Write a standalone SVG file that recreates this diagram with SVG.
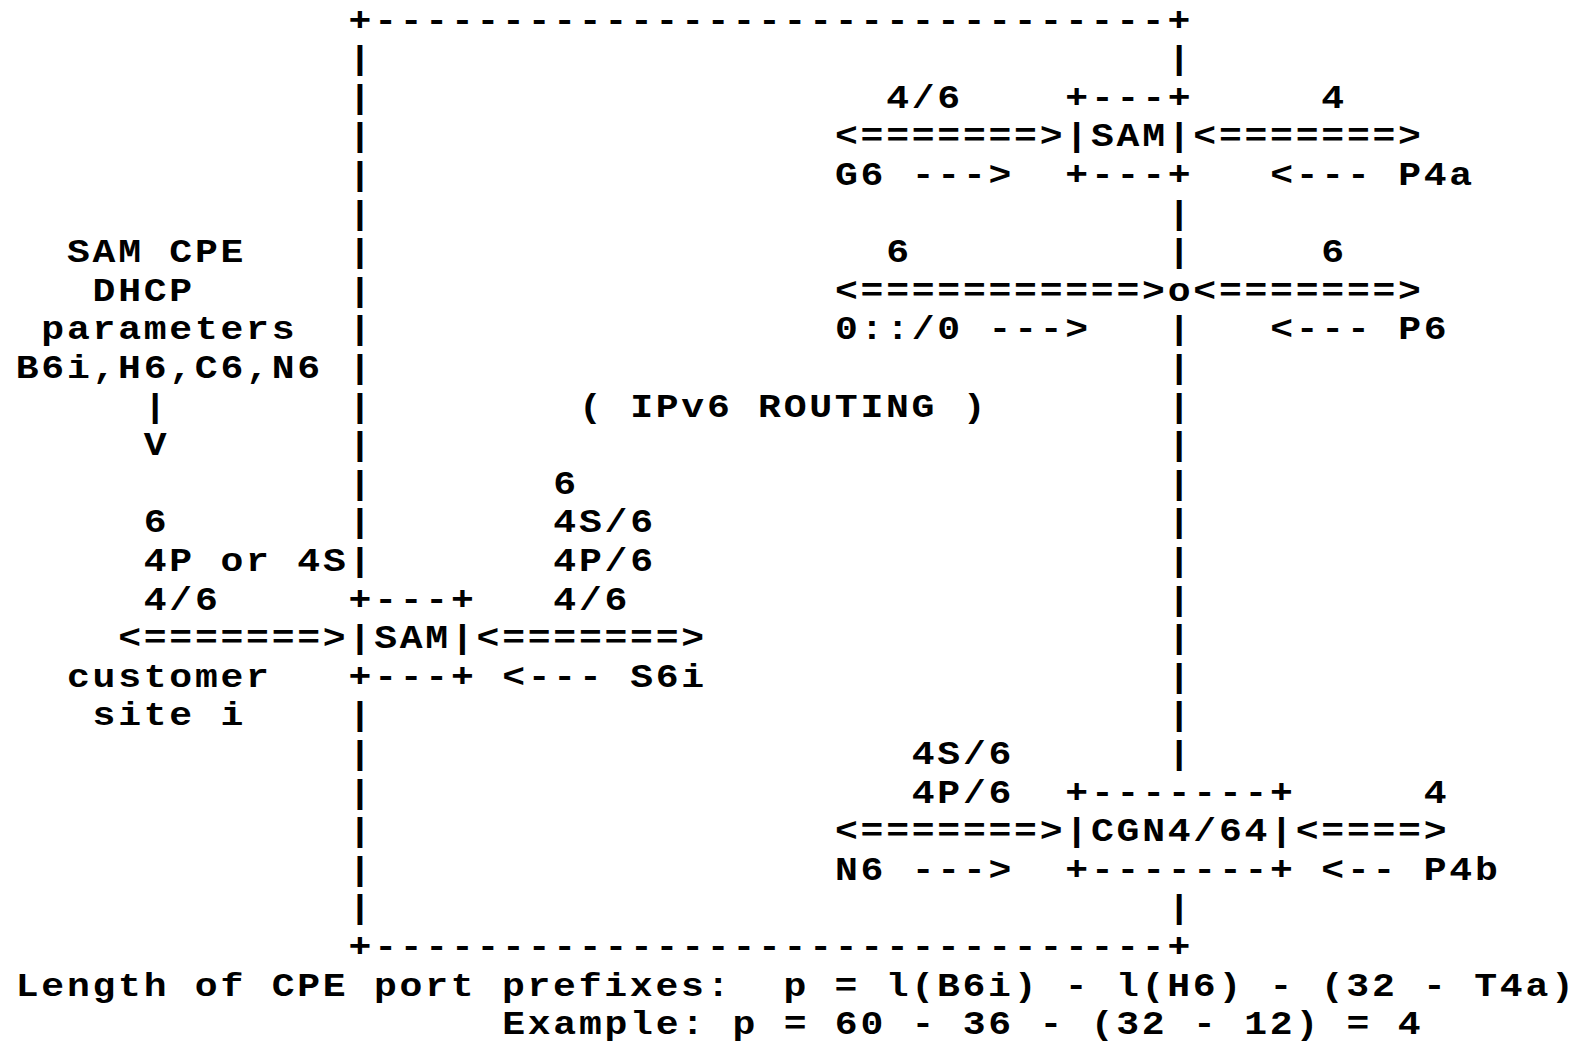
<svg xmlns="http://www.w3.org/2000/svg" width="1576" height="1044" viewBox="0 0 1576 1044" xml:space="preserve">
<style>
text{font-family:"Liberation Mono","DejaVu Sans Mono",monospace;font-size:34px;font-weight:bold;letter-spacing:2.454px;fill:#000;white-space:pre}
</style>
<rect width="1576" height="1044" fill="#fff"/>
<g transform="scale(1.12,1)">
<g id="routing-domain">
<text x="311.23" y="30.7">+-------------------------------+</text>
<text x="311.23" y="957.1">+-------------------------------+</text>
<text x="311.23"><tspan x="311.23" y="69.3">|</tspan><tspan x="311.23" y="107.9">|</tspan><tspan x="311.23" y="146.5">|</tspan><tspan x="311.23" y="185.1">|</tspan><tspan x="311.23" y="223.7">|</tspan><tspan x="311.23" y="262.3">|</tspan><tspan x="311.23" y="300.9">|</tspan><tspan x="311.23" y="339.5">|</tspan><tspan x="311.23" y="378.1">|</tspan><tspan x="311.23" y="416.7">|</tspan><tspan x="311.23" y="455.3">|</tspan><tspan x="311.23" y="493.9">|</tspan><tspan x="311.23" y="532.5">|</tspan><tspan x="311.23" y="571.1">|</tspan><tspan x="311.23" y="725.5">|</tspan><tspan x="311.23" y="764.1">|</tspan><tspan x="311.23" y="802.7">|</tspan><tspan x="311.23" y="841.3">|</tspan><tspan x="311.23" y="879.9">|</tspan><tspan x="311.23" y="918.5">|</tspan></text>
<text x="1042.65"><tspan x="1042.65" y="69.3">|</tspan><tspan x="1042.65" y="223.7">|</tspan><tspan x="1042.65" y="262.3">|</tspan><tspan x="1042.65" y="339.5">|</tspan><tspan x="1042.65" y="378.1">|</tspan><tspan x="1042.65" y="416.7">|</tspan><tspan x="1042.65" y="455.3">|</tspan><tspan x="1042.65" y="493.9">|</tspan><tspan x="1042.65" y="532.5">|</tspan><tspan x="1042.65" y="571.1">|</tspan><tspan x="1042.65" y="609.7">|</tspan><tspan x="1042.65" y="648.3">|</tspan><tspan x="1042.65" y="686.9">|</tspan><tspan x="1042.65" y="725.5">|</tspan><tspan x="1042.65" y="764.1">|</tspan><tspan x="1042.65" y="918.5">|</tspan></text>
<text x="516.94" y="416.7">( IPv6 ROUTING )</text>
</g>
<g id="sam-gateway">
<text x="951.23" y="107.9">+---+</text>
<text x="951.23" y="146.5">|SAM|</text>
<text x="951.23" y="185.1">+---+</text>
</g>
<g id="sam-cpe">
<text x="311.23" y="609.7">+---+</text>
<text x="311.23" y="648.3">|SAM|</text>
<text x="311.23" y="686.9">+---+</text>
</g>
<g id="cgn">
<text x="951.23" y="802.7">+-------+</text>
<text x="951.23" y="841.3">|CGN4/64|</text>
<text x="951.23" y="879.9">+-------+</text>
</g>
<g id="junction">
<text x="1042.65" y="300.9">o</text>
</g>
<g id="cpe-params">
<text x="59.80" y="262.3">SAM CPE</text>
<text x="82.66" y="300.9">DHCP</text>
<text x="36.94" y="339.5">parameters</text>
<text x="14.08" y="378.1">B6i,H6,C6,N6</text>
</g>
<g id="customer-site">
<text x="59.80" y="686.9">customer</text>
<text x="82.66" y="725.5">site i</text>
</g>
<g id="connectors">
<text x="128.37" y="416.7">|</text>
<text x="128.37" y="455.3">V</text>
<text x="745.51" y="146.5">&lt;=======&gt;</text>
<text x="1065.51" y="146.5">&lt;=======&gt;</text>
<text x="814.08" y="185.1">---&gt;</text>
<text x="1134.08" y="185.1">&lt;---</text>
<text x="745.51" y="300.9">&lt;===========&gt;</text>
<text x="1065.51" y="300.9">&lt;=======&gt;</text>
<text x="882.65" y="339.5">---&gt;</text>
<text x="1134.08" y="339.5">&lt;---</text>
<text x="105.51" y="648.3">&lt;=======&gt;</text>
<text x="425.51" y="648.3">&lt;=======&gt;</text>
<text x="448.37" y="686.9">&lt;---</text>
<text x="745.51" y="841.3">&lt;=======&gt;</text>
<text x="1156.94" y="841.3">&lt;====&gt;</text>
<text x="814.08" y="879.9">---&gt;</text>
<text x="1179.80" y="879.9">&lt;--</text>
</g>
<g id="labels">
<text x="791.23" y="107.9">4/6</text>
<text x="1179.80" y="107.9">4</text>
<text x="745.51" y="185.1">G6</text>
<text x="1248.37" y="185.1">P4a</text>
<text x="791.23" y="262.3">6</text>
<text x="1179.80" y="262.3">6</text>
<text x="745.51" y="339.5">0::/0</text>
<text x="1248.37" y="339.5">P6</text>
<text x="494.08" y="493.9">6</text>
<text x="128.37" y="532.5">6</text>
<text x="494.08" y="532.5">4S/6</text>
<text x="128.37" y="571.1">4P or 4S</text>
<text x="494.08" y="571.1">4P/6</text>
<text x="128.37" y="609.7">4/6</text>
<text x="494.08" y="609.7">4/6</text>
<text x="562.65" y="686.9">S6i</text>
<text x="814.08" y="764.1">4S/6</text>
<text x="814.08" y="802.7">4P/6</text>
<text x="1271.23" y="802.7">4</text>
<text x="745.51" y="879.9">N6</text>
<text x="1271.23" y="879.9">P4b</text>
</g>
<g id="formula">
<text x="14.08" y="995.7">Length of CPE port prefixes:  p = l(B6i) - l(H6) - (32 - T4a)</text>
<text x="448.37" y="1034.3">Example: p = 60 - 36 - (32 - 12) = 4</text>
</g>
</g>
</svg>
